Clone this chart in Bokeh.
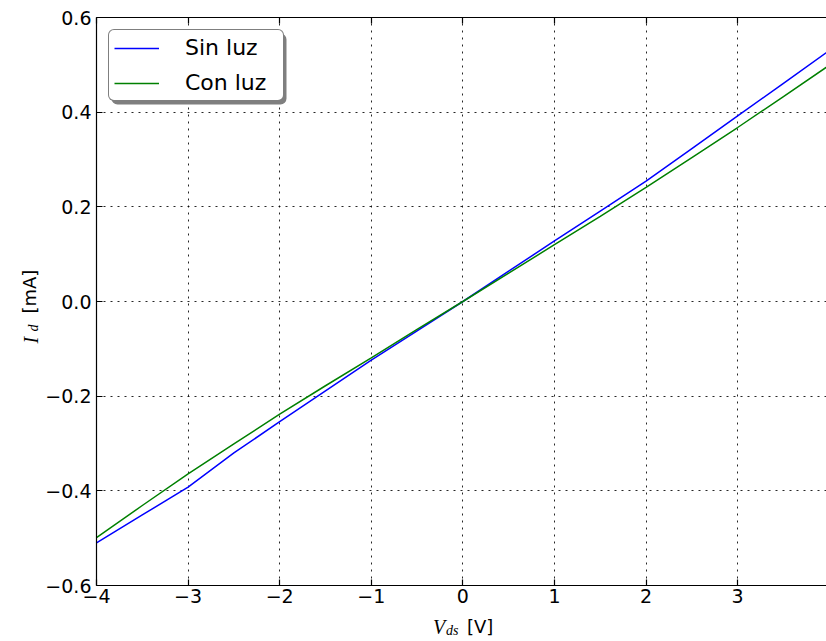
import math

from bokeh.plotting import figure
from bokeh.layouts import row, column
from bokeh.models import (Range1d, FixedTicker, CustomJSTickFormatter, LinearAxis,
                          Legend, LegendItem, BoxAnnotation)
from bokeh.core.properties import value
from bokeh.embed import file_html
from bokeh.resources import INLINE

# I-V sweep of the device, drain-source voltage in volts, drain current in mA
vds = [-4.0, -3.5, -3.0, -2.5, -2.0, -1.5, -1.0, -0.5, 0.0,
       0.5, 1.0, 1.5, 2.0, 2.5, 3.0, 3.5, 4.0]
id_sin_luz = [-0.510, -0.451, -0.392, -0.320, -0.254, -0.189, -0.124, -0.062, 0.0,
              0.064, 0.128, 0.191, 0.2545, 0.323, 0.392, 0.461, 0.530]
id_con_luz = [-0.499, -0.431, -0.364, -0.301, -0.238, -0.178, -0.119, -0.059, 0.0,
              0.060, 0.120, 0.180, 0.241, 0.304, 0.3676, 0.433, 0.499]

series_names = ["Sin luz", "Con luz"]
x_ticks = [-4, -3, -2, -1, 0, 1, 2, 3, 4]
y_ticks = [-0.6, -0.4, -0.2, 0.0, 0.2, 0.4, 0.6]

# page geometry (pixels)
W, H = 826, 641
YLAB_W = 42            # strip on the left holding the y-axis title
XLAB_H = 30            # strip at the bottom holding the x-axis title
MAIN_W, MAIN_H = W - YLAB_W, H - XLAB_H
FRAME_L, FRAME_T, FRAME_B = 95, 17, 585   # plot frame edges on the page
LEFT, TOP, BOTTOM = FRAME_L - YLAB_W, FRAME_T, MAIN_H - FRAME_B

X0, X1 = -4.0, 3.97
Y0, Y1 = -0.6, 0.6

FONT = "DejaVu Sans"
MATH_FONT = "Liberation Serif"

p = figure(width=MAIN_W, height=MAIN_H, output_backend="svg", toolbar_location=None,
           x_range=Range1d(X0, X1), y_range=Range1d(Y0, Y1),
           min_border_left=LEFT, min_border_right=0,
           min_border_top=TOP, min_border_bottom=BOTTOM,
           background_fill_color="white", border_fill_color="white",
           outline_line_color=None)

x_fmt = CustomJSTickFormatter(code="""
    const v = Math.abs(tick) < 1e-9 ? 0 : tick;
    return (v < 0 ? "\u2212" : "") + Math.abs(v).toFixed(0);
""")
y_fmt = CustomJSTickFormatter(code="""
    const v = Math.abs(tick) < 1e-9 ? 0 : tick;
    return (v < 0 ? "\u2212" : "") + Math.abs(v).toFixed(1);
""")

xa = p.xaxis[0]
ya = p.yaxis[0]
xa.ticker = FixedTicker(ticks=x_ticks)
ya.ticker = FixedTicker(ticks=y_ticks)
xa.formatter = x_fmt
ya.formatter = y_fmt
xa.major_label_standoff = 3
ya.major_label_standoff = 5

top_axis = LinearAxis(ticker=FixedTicker(ticks=x_ticks),
                      major_label_text_font_size="0px",
                      major_label_text_color=None)
p.add_layout(top_axis, "above")

for ax in (xa, ya, top_axis):
    ax.axis_line_color = "black"
    ax.axis_line_width = 1.2
    ax.major_tick_line_color = "black"
    ax.major_tick_line_width = 1.2
    ax.major_tick_in = 6
    ax.major_tick_out = 0
    ax.minor_tick_line_color = None
    ax.axis_label = None
for ax in (xa, ya):
    ax.major_label_text_font = FONT
    ax.major_label_text_font_size = "19px"
    ax.major_label_text_color = "black"

p.grid.grid_line_color = "black"
p.grid.grid_line_width = 1
p.grid.grid_line_alpha = 0.85
p.grid.grid_line_dash = "2 5"

r_sin = p.line(vds, id_sin_luz, line_color="#0000ff", line_width=1.5)
r_con = p.line(vds, id_con_luz, line_color="#008000", line_width=1.5)

# legend box (canvas pixels of the main plot) and its drop shadow
LEG_MARGIN, LEG_W, LEG_H, SHADOW = 12, 175, 71, 4
leg_left = LEFT + LEG_MARGIN
leg_top = TOP + LEG_MARGIN

box_round = {"border_radius": 6} if "border_radius" in BoxAnnotation.properties() else {}
shadow = BoxAnnotation(left=leg_left + SHADOW, right=leg_left + LEG_W + SHADOW,
                       top=leg_top + SHADOW, bottom=leg_top + LEG_H + SHADOW,
                       left_units="canvas", right_units="canvas",
                       top_units="canvas", bottom_units="canvas",
                       fill_color="#7f7f7f", fill_alpha=1.0, line_color=None,
                       **box_round)
p.add_layout(shadow)

leg_round = {"border_radius": 6} if "border_radius" in Legend.properties() else {}
legend = Legend(items=[LegendItem(label=series_names[0], renderers=[r_sin]),
                       LegendItem(label=series_names[1], renderers=[r_con])],
                location="top_left", margin=LEG_MARGIN,
                padding=5, spacing=10, glyph_width=45, glyph_height=24,
                label_standoff=26, label_width=93, label_height=24,
                label_text_font=FONT, label_text_font_size="22px",
                label_text_color="black",
                background_fill_color="white", background_fill_alpha=1.0,
                border_line_color="black", border_line_width=1.3,
                **leg_round)
p.add_layout(legend, "center")


def title_strip(width, height, page_left, page_top, frame_l, frame_r, frame_t, frame_b):
    """A bare figure whose data units are page pixels (x right, y = rows from the bottom).

    frame_* are the page-pixel edges its plotting frame must cover; the layout
    lines frames up with the main plot's frame, so the borders are set explicitly.
    """
    f = figure(width=width, height=height, output_backend="svg", toolbar_location=None,
               x_range=Range1d(frame_l, frame_r),
               y_range=Range1d(H - frame_b, H - frame_t),
               x_axis_type=None, y_axis_type=None,
               min_border_left=frame_l - page_left,
               min_border_right=page_left + width - frame_r,
               min_border_top=frame_t - page_top,
               min_border_bottom=page_top + height - frame_b,
               background_fill_color="white", border_fill_color="white",
               outline_line_color=None)
    f.grid.visible = False
    return f


def put(f, text, px, row_px, size, font, style="normal", angle=0.0):
    f.text(x=[px], y=[H - row_px], text=[text], angle=angle,
           text_font=value(font), text_font_size=value(size),
           text_font_style=style, text_color="black",
           text_align="left", text_baseline="alphabetic")


# x-axis title: V_ds [V]
xlab = title_strip(MAIN_W, XLAB_H, YLAB_W, MAIN_H, FRAME_L, W, MAIN_H, H)
put(xlab, "V", 432, 626, "20px", MATH_FONT, "italic")
put(xlab, "ds", 445, 630, "14px", MATH_FONT, "italic")
put(xlab, "[V]", 466, 626, "18px", FONT)

# y-axis title: I_d [mA], reading upwards
ylab = title_strip(YLAB_W, H, 0, 0, 0, YLAB_W, FRAME_T, FRAME_B)
put(ylab, "I", 30.5, 343, "20px", MATH_FONT, "italic", angle=math.pi / 2)
put(ylab, "d", 33.0, 331, "14px", MATH_FONT, "italic", angle=math.pi / 2)
put(ylab, "[mA]", 28.5, 313, "18px", FONT, angle=math.pi / 2)

page = row(ylab, column(p, xlab, spacing=0), spacing=0)

open("out.html", "w").write(file_html(page, INLINE))
